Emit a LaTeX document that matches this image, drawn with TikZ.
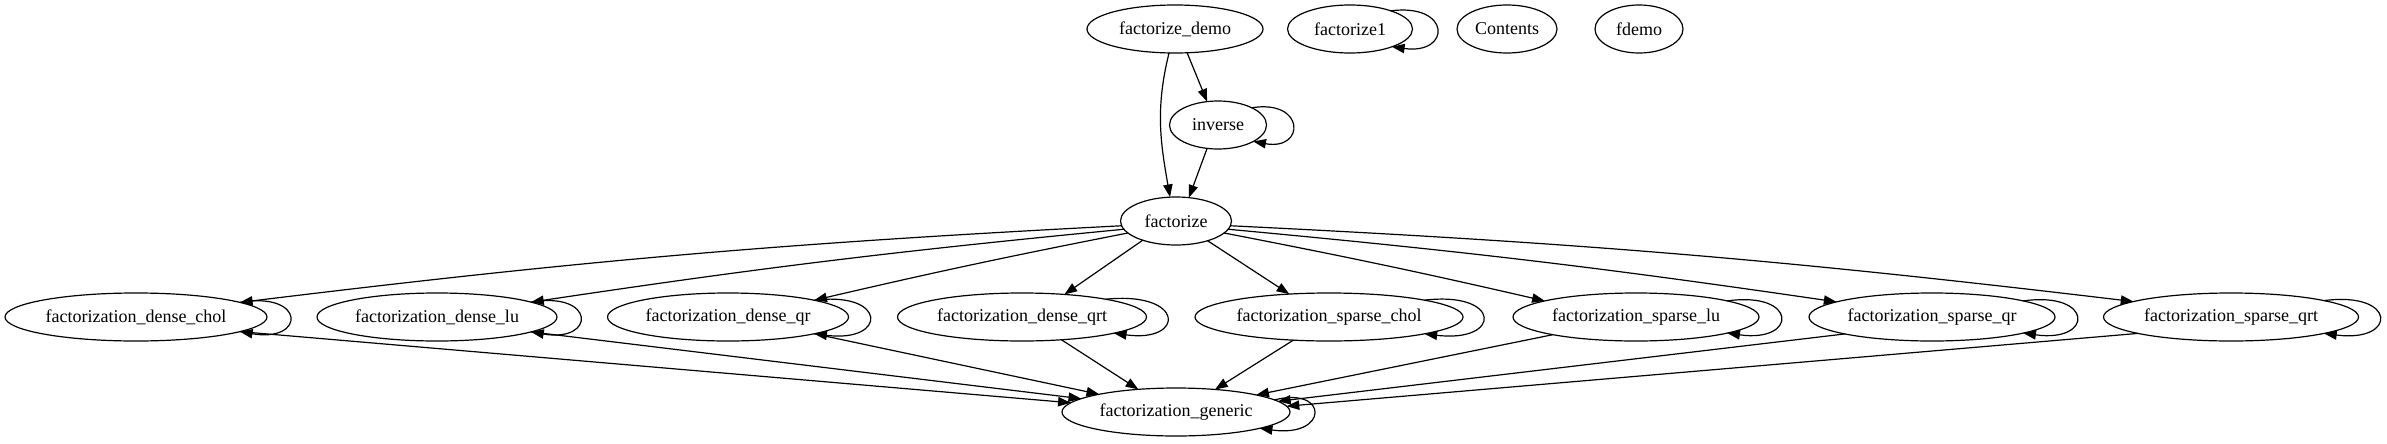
\documentclass[tikz,border=0pt]{standalone}
\usepackage{fontspec}
\setmainfont{Liberation Serif}
\usetikzlibrary{arrows.meta,calc,shapes.geometric}
\tikzset{
    every picture/.style={line cap=round,line join=round},
    fnnode/.style={draw=black,ellipse,line width=0.9pt,inner sep=0pt,outer sep=0pt,
      minimum height=36pt,font=\fontsize{13.5}{16}\selectfont},
    nodew/.style={minimum width=#1*0.75pt},
    callarrow/.style={-{Triangle[length=9.5pt,width=7pt]},draw=black,
      line width=0.9pt}
}

\begin{document}
\begin{tikzpicture}[x=0.75pt,y=-0.75pt]
  \useasboundingbox (0,0) rectangle (2387,443);
  % top row
  \node[fnnode,nodew=176] (demo) at (1175,29) {factorize\_demo};
  \node[fnnode,nodew=125] (fz1) at (1350,29) {factorize1};
  \node[fnnode,nodew=100] (cont) at (1507,29) {Contents};
  \node[fnnode,nodew=88] (fdemo) at (1639,29) {fdemo};
  \node[fnnode,nodew=97] (inv) at (1218,125) {inverse};
  \node[fnnode,nodew=111] (fz) at (1176,221) {factorize};
  % factorization row
  \node[fnnode,nodew=262] (dchol) at (136,317) {factorization\_dense\_chol};
  \node[fnnode,nodew=240] (dlu) at (437,317) {factorization\_dense\_lu};
  \node[fnnode,nodew=241] (dqr) at (728,317) {factorization\_dense\_qr};
  \node[fnnode,nodew=249] (dqrt) at (1022,317) {factorization\_dense\_qrt};
  \node[fnnode,nodew=268] (spchol) at (1329,317) {factorization\_sparse\_chol};
  \node[fnnode,nodew=246] (splu) at (1636,317) {factorization\_sparse\_lu};
  \node[fnnode,nodew=246] (spqr) at (1932,317) {factorization\_sparse\_qr};
  \node[fnnode,nodew=255] (spqrt) at (2231,317) {factorization\_sparse\_qrt};
  \node[fnnode,nodew=228] (gen) at (1176,412) {factorization\_generic};

  \draw[callarrow] (demo.297) -- (inv.115);
  \draw[callarrow] (demo.256) to[out=256,in=100] (fz.104);
  \draw[callarrow] (inv.245) -- (fz.61);

  \draw[callarrow] (fz.185) to[bend right=2] (dchol.8);
  \draw[callarrow] (fz.189) to[bend right=1.5] (dlu.9);
  \draw[callarrow] (fz.194) to[bend right=1] (dqr.11);
  \draw[callarrow] (fz.210) -- (dqrt.28);
  \draw[callarrow] (fz.328) -- (spchol.150);
  \draw[callarrow] (fz.346) to[bend left=1] (splu.170);
  \draw[callarrow] (fz.351) to[bend left=1.5] (spqr.171);
  \draw[callarrow] (fz.355) to[bend left=2] (spqrt.171);

  \draw[callarrow] (dchol.-8) -- (gen.175);
  \draw[callarrow] (dlu.-9) -- (gen.172);
  \draw[callarrow] (dqr.-11) -- (gen.167);
  \draw[callarrow] (dqrt.-30) -- (gen.149);
  \draw[callarrow] (spchol.-147) -- (gen.30);
  \draw[callarrow] (splu.192) -- (gen.12);
  \draw[callarrow] (spqr.191) -- (gen.6);
  \draw[callarrow] (spqrt.190) -- (gen.3);

  % self calls
  \foreach \n/\a/\b in {fz1/24/-23,inv/27/-25,dchol/8/-8,dlu/9/-9,dqr/11/-11,
      dqrt/12/-10,spchol/10/-10,splu/10/-10,spqr/10/-10,spqrt/10/-10,gen/7/-11}
    \draw[callarrow] (\n.\a) .. controls ($(\n.east)+(39,-26)$)
      and ($(\n.east)+(39,26)$) .. (\n.\b);
\end{tikzpicture}
\end{document}
